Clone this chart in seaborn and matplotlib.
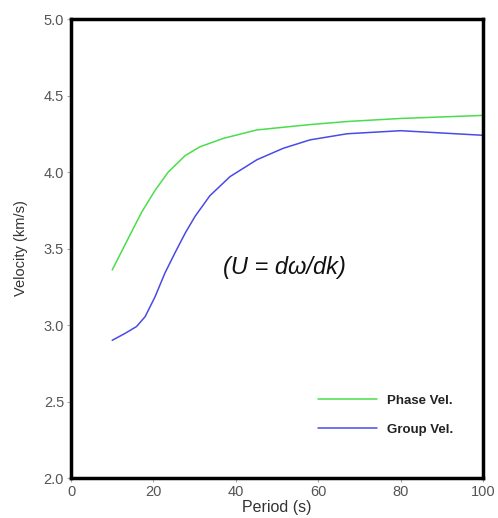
import matplotlib
matplotlib.use("Agg")
import matplotlib.pyplot as plt
import seaborn as sns
import pandas as pd

period_phase = [10, 13.9, 17.2, 20.4, 23.6, 27.7, 31.3, 37, 45.1, 58, 67, 80, 100]
phase_vel = [3.36, 3.567, 3.74, 3.88, 4.00, 4.107, 4.165, 4.22, 4.275, 4.31, 4.33, 4.35, 4.37]
period_group = [10, 13.1, 15.9, 18, 20.4, 22.8, 25.2, 27.7, 30.1, 33.7, 38.6, 45.1, 51.5, 58, 67, 80, 90, 100]
group_vel = [2.90, 2.945, 2.99, 3.055, 3.185, 3.34, 3.47, 3.60, 3.71, 3.845, 3.97, 4.08, 4.155, 4.21, 4.25, 4.27, 4.255, 4.24]

df = pd.concat([
    pd.DataFrame({"Period": period_phase, "Velocity": phase_vel, "Series": "Phase Vel."}),
    pd.DataFrame({"Period": period_group, "Velocity": group_vel, "Series": "Group Vel."}),
])

sns.set_style("white")
plt.rcParams["font.family"] = ["Liberation Sans", "DejaVu Sans"]

fig = plt.figure(figsize=(4.98, 5.18), dpi=100)
ax = fig.add_axes([0.1426, 0.0772, 0.8274, 0.8861])
sns.lineplot(data=df, x="Period", y="Velocity", hue="Series",
             palette={"Phase Vel.": "#4ade4a", "Group Vel.": "#4a4ae6"},
             linewidth=1.1, ax=ax, sort=False)

ax.set_xlim(0, 100)
ax.set_ylim(2.0, 5.0)
ax.set_xticks([0, 20, 40, 60, 80, 100])
ax.set_yticks([2.0, 2.5, 3.0, 3.5, 4.0, 4.5, 5.0])
ax.set_yticklabels(["2.0", "2.5", "3.0", "3.5", "4.0", "4.5", "5.0"])
for s in ax.spines.values():
    s.set_visible(True)
    s.set_color("black")
    s.set_linewidth(2.5)
ax.tick_params(axis="both", which="major", length=3, width=0.8, color="#aaaaaa",
               labelsize=10.5, labelcolor="#555555", direction="out", bottom=True, left=True, pad=2)
ax.set_xlabel("Period (s)", fontsize=11.5, color="#333333", labelpad=1)
ax.set_ylabel("Velocity (km/s)", fontsize=10.5, color="#333333", labelpad=11)

ax.text(51.9, 3.373, "(U = dω/dk)", fontsize=17, style="italic", ha="center", va="center", color="#111111")

leg = ax.legend(loc="upper left", bbox_to_anchor=(0.5995, 0.182), frameon=False,
                borderaxespad=0, borderpad=0,
                handlelength=4.5, handletextpad=0.75, labelspacing=1.27,
                prop={"weight": "bold", "size": 9.5})
for t in leg.get_texts():
    t.set_color("#222222")

fig.savefig("out.png", dpi=100)
